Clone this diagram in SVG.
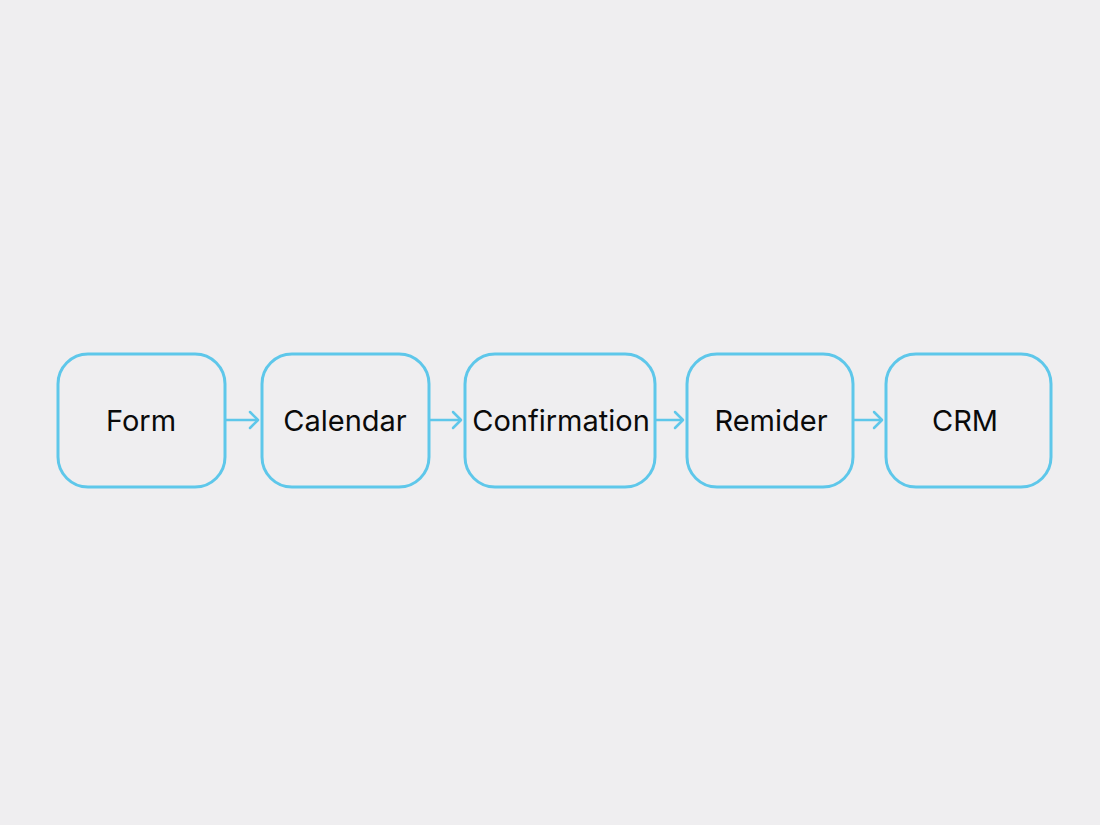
<svg xmlns="http://www.w3.org/2000/svg" width="1100" height="825" viewBox="0 0 1100 825">
<style>
.box{fill:none;stroke:#5EC7EA;stroke-width:3}
.lbl{font-family:Inter,"Liberation Sans",sans-serif;font-size:29px;fill:#0A0A0A;text-anchor:middle;dominant-baseline:central}
.edge{stroke:#5EC7EA;stroke-width:2.5;fill:none}
.head{stroke:#5EC7EA;stroke-width:2.5;fill:none;stroke-linecap:round;stroke-linejoin:round}
</style>
<rect width="1100" height="825" fill="#EFEEF0"/>
<g id="connectors">
<line class="edge" x1="226" y1="420" x2="258" y2="420"/><polyline class="head" points="250,412 258,420 250,428"/>
<line class="edge" x1="430" y1="420" x2="461" y2="420"/><polyline class="head" points="453,412 461,420 453,428"/>
<line class="edge" x1="656" y1="420" x2="683" y2="420"/><polyline class="head" points="675,412 683,420 675,428"/>
<line class="edge" x1="854" y1="420" x2="882" y2="420"/><polyline class="head" points="874,412 882,420 874,428"/>
</g>
<g id="form"><rect class="box" x="58" y="354" width="167" height="133" rx="30"/><text class="lbl" x="141" y="420">Form</text></g>
<g id="calendar"><rect class="box" x="262" y="354" width="167" height="133" rx="30"/><text class="lbl" x="345" y="420">Calendar</text></g>
<g id="confirmation"><rect class="box" x="465" y="354" width="190" height="133" rx="30"/><text class="lbl" x="561" y="420">Confirmation</text></g>
<g id="remider"><rect class="box" x="687" y="354" width="166" height="133" rx="30"/><text class="lbl" x="771" y="420">Remider</text></g>
<g id="crm"><rect class="box" x="886" y="354" width="165" height="133" rx="30"/><text class="lbl" x="965" y="420">CRM</text></g>
</svg>
